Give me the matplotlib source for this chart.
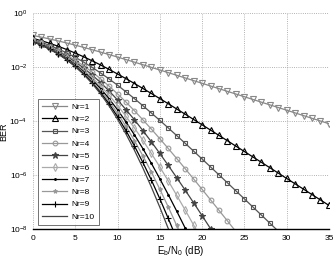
import matplotlib as mpl
mpl.use('Agg')
import matplotlib.pyplot as plt
import numpy as np

plt.rcParams['font.family'] = ['Liberation Sans', 'DejaVu Sans']
plt.rcParams['font.size'] = 6
plt.rcParams['mathtext.fontset'] = 'custom'
plt.rcParams['mathtext.rm'] = 'Liberation Sans'
plt.rcParams['mathtext.it'] = 'Liberation Sans:italic'

# Eb/N0 in dB, one point per dB
snr_db = list(range(36))

# BER, stored as log10(BER)
ber_nr1 = [-0.834, -0.897, -0.965, -1.037, -1.113, -1.192, -1.276, -1.362, -1.450, -1.541,
           -1.633, -1.727, -1.822, -1.918, -2.015, -2.112, -2.210, -2.309, -2.407, -2.506,
           -2.605, -2.705, -2.804, -2.904, -3.003, -3.103, -3.203, -3.303, -3.403, -3.502,
           -3.602, -3.702, -3.802, -3.902, -4.002, -4.102]
ber_nr2 = [-0.941, -1.029, -1.126, -1.236, -1.355, -1.486, -1.624, -1.772, -1.926, -2.091,
           -2.260, -2.433, -2.613, -2.796, -2.982, -3.171, -3.362, -3.556, -3.749, -3.945,
           -4.142, -4.338, -4.536, -4.734, -4.933, -5.131, -5.331, -5.529, -5.729, -5.929,
           -6.129, -6.329, -6.527, -6.727, -6.927, -7.127]
ber_nr3 = [-0.986, -1.088, -1.206, -1.336, -1.479, -1.643, -1.821, -2.015, -2.223, -2.443,
           -2.675, -2.921, -3.174, -3.435, -3.705, -3.978, -4.258, -4.542, -4.828, -5.118,
           -5.409, -5.702, -5.997, -6.292, -6.589, -6.886, -7.184, -7.482, -7.781, -8.080]
ber_nr4 = [-1.015, -1.127, -1.253, -1.401, -1.567, -1.750, -1.958, -2.188, -2.439, -2.709,
           -2.997, -3.299, -3.623, -3.957, -4.300, -4.657, -5.020, -5.391, -5.767, -6.148,
           -6.533, -6.921, -7.311, -7.703, -8.097]
ber_nr5 = [-1.029, -1.142, -1.277, -1.432, -1.610, -1.812, -2.041, -2.297, -2.578, -2.887,
           -3.221, -3.579, -3.957, -4.356, -4.771, -5.203, -5.646, -6.100, -6.562, -7.032,
           -7.507, -7.988, -8.472]
ber_nr6 = [-1.042, -1.162, -1.302, -1.466, -1.653, -1.872, -2.117, -2.392, -2.703, -3.047,
           -3.423, -3.828, -4.260, -4.716, -5.201, -5.702, -6.219, -6.754, -7.299, -7.856,
           -8.421]
ber_nr7 = [-1.051, -1.175, -1.319, -1.488, -1.684, -1.912, -2.174, -2.468, -2.800, -3.173,
           -3.585, -4.033, -4.514, -5.025, -5.568, -6.139, -6.728, -7.339, -7.966, -8.606]
ber_nr8 = [-1.054, -1.181, -1.328, -1.502, -1.705, -1.940, -2.212, -2.525, -2.879, -3.276,
           -3.718, -4.201, -4.725, -5.293, -5.891, -6.525, -7.184, -7.872, -8.579]
ber_nr9 = [-1.063, -1.191, -1.343, -1.520, -1.727, -1.971, -2.253, -2.581, -2.950, -3.366,
           -3.836, -4.357, -4.925, -5.537, -6.186, -6.878, -7.609, -8.363]
ber_nr10 = [-1.064, -1.193, -1.346, -1.525, -1.738, -1.988, -2.278, -2.614, -3.000, -3.440,
            -3.934, -4.482, -5.085, -5.741, -6.447, -7.194, -7.984, -8.807]

labels = ['Nr=1', 'Nr=2', 'Nr=3', 'Nr=4', 'Nr=5', 'Nr=6', 'Nr=7', 'Nr=8', 'Nr=9', 'Nr=10']
series = [ber_nr1, ber_nr2, ber_nr3, ber_nr4, ber_nr5, ber_nr6, ber_nr7, ber_nr8, ber_nr9, ber_nr10]

# (color, marker, markersize, filled)
styles = [('#888888', 'v', 4.0, False),
          ('#000000', '^', 3.8, False),
          ('#555555', 's', 3.4, False),
          ('#999999', 'o', 3.4, False),
          ('#444444', '*', 4.8, True),
          ('#aaaaaa', 'd', 3.8, False),
          ('#000000', '.', 2.5, True),
          ('#999999', '*', 3.0, True),
          ('#000000', '+', 4.0, True),
          ('#444444', '', 0, True)]

fig = plt.figure(figsize=(3.36, 2.59), dpi=100)
ax = fig.add_axes([0.098, 0.116, 0.881, 0.834])

for vals, lab, (col, mk, ms, filled) in zip(series, labels, styles):
    x = snr_db[:len(vals)]
    y = 10.0 ** np.array(vals)
    ax.semilogy(x, y, color=col, marker=mk if mk else None, markersize=ms,
                markerfacecolor=col if filled else 'none', markeredgecolor=col,
                markeredgewidth=0.8, linewidth=0.9, label=lab)

ax.set_xlim(0, 35)
ax.set_ylim(1e-8, 1)
ax.set_xticks([0, 5, 10, 15, 20, 25, 30, 35])
ax.set_yticks([1e0, 1e-2, 1e-4, 1e-6, 1e-8])
ax.yaxis.set_minor_locator(mpl.ticker.NullLocator())
ax.grid(True, which='major', linestyle=':', color='#999999', linewidth=0.6)
ax.tick_params(length=0, pad=4, labelsize=6)

for s in ['top', 'right', 'left']:
    ax.spines[s].set_visible(False)
ax.spines['bottom'].set_linewidth(1.0)

ax.set_xlabel(r'E$_\mathrm{b}$/N$_\mathrm{0}$ (dB)', labelpad=2, fontsize=7)
ax.set_ylabel('BER', fontsize=6.5)
ax.yaxis.set_label_coords(-0.085, 0.45)

leg = ax.legend(loc='lower left', bbox_to_anchor=(0.004, 0.0), fontsize=6,
                frameon=True, fancybox=False, edgecolor='#333333',
                handlelength=3.0, labelspacing=0.52, borderpad=0.5, handletextpad=0.5)
leg.get_frame().set_linewidth(0.6)

fig.savefig('out.png', dpi=100)
